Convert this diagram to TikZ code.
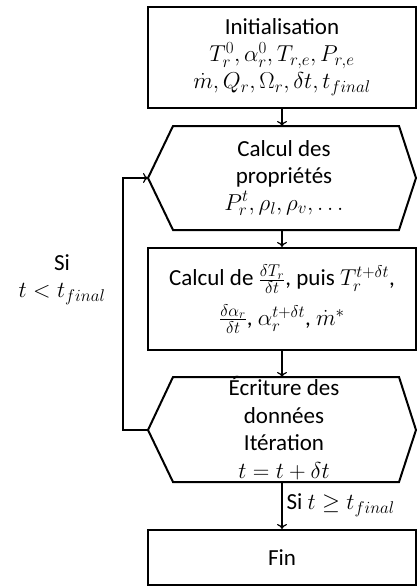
\RequirePackage{fix-cm}
\documentclass[tikz,border=0pt]{standalone}
\usepackage{fontspec}
\setmainfont{Carlito}
\DeclareMathSizes{23}{23}{17}{13}
\usetikzlibrary{arrows.meta}
\begin{document}
\begin{tikzpicture}[x=1pt,y=-1pt,
  lbl/.style={align=center, inner sep=0pt, font=\fontsize{23}{27}\selectfont},
  box/.style={lbl, draw, line width=2pt, minimum width=268pt},
  hexline/.style={line width=2pt, line join=miter},
  conn/.style={line width=1.2pt, -{To[length=5pt,width=10pt]}},
]
\useasboundingbox (0,0) rectangle (417,587);
% Initialisation
\node[box, minimum height=101pt] (init) at (282,57.5)
  {Initialisation\\ $T_r^0, \alpha_r^0, T_{r,e}, P_{r,e}$\\ $\dot m, Q_r, \Omega_r, \delta t, t_{final}$};
% Hexagon 1
\coordinate (h1w) at (148,178);
\coordinate (h1e) at (416,178);
\coordinate (h1n) at (282,126);
\coordinate (h1s) at (282,230);
\draw[hexline] (h1w) -- (173,126) -- (399,126) -- (h1e) -- (399,230) -- (173,230) -- cycle;
\node[lbl] (prop) at (284,178) {Calcul des\\ propriétés\\ $P_r^t, \rho_l, \rho_v, \ldots$};
% Box 3
\node[box, minimum height=102pt] (calc) at (282,299)
  {Calcul de $\frac{\delta T_r}{\delta t}$, puis $T_r^{t+\delta t}$,\\[10pt] $\frac{\delta \alpha_r}{\delta t}$, $\alpha_r^{t+\delta t}$, $\dot m^{*}$};
% Hexagon 2
\coordinate (h2w) at (148,430);
\coordinate (h2e) at (416,430);
\coordinate (h2n) at (282,377);
\coordinate (h2s) at (282,482);
\draw[hexline] (h2w) -- (173,377) -- (399,377) -- (h2e) -- (399,482) -- (173,482) -- cycle;
\node[lbl, font=\fontsize{23}{27.5}\selectfont] (ecr) at (284,428)
  {Écriture des\\ données\\ Itération\\ $t = t + \delta t$};
% Fin
\node[box, minimum height=55pt] (fin) at (282,557.5) {Fin};
% connectors
\draw[conn] (init.south) -- (h1n);
\draw[conn] (h1s) -- (calc.north);
\draw[conn] (calc.south) -- (h2n);
\draw[conn] (h2s) -- node[lbl, right, xshift=4pt] (cond2) {Si $t \geq t_{final}$} (fin.north);
\coordinate (lp) at (123,430);
\draw[conn] (h2w) -- (lp) |- (h1w);
\node[lbl] (cond1) at (62,280) {Si\\ $t < t_{final}$};
\end{tikzpicture}
\end{document}
